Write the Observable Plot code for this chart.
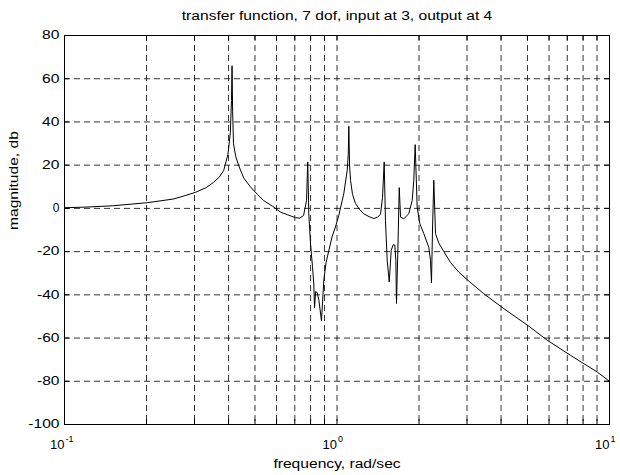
<!DOCTYPE html>
<html>
<head>
<meta charset="utf-8">
<script src="https://cdn.jsdelivr.net/npm/d3@7"></script>
<script src="https://cdn.jsdelivr.net/npm/@observablehq/plot@0.6"></script>
<style>
  html, body { margin: 0; padding: 0; background: #fff; }
  #chart svg { display: block; }
</style>
</head>
<body>
<div id="chart"></div>
<script>
// ---- data ----
const freq = [0.1, 0.12, 0.15, 0.2, 0.25, 0.267, 0.302, 0.33, 0.352, 0.37, 0.384, 0.398, 0.406, 0.41, 0.412, 0.414, 0.417, 0.425, 0.435, 0.455, 0.481, 0.51, 0.537, 0.58, 0.62, 0.66, 0.704, 0.73, 0.754, 0.773, 0.781, 0.788, 0.799, 0.813, 0.822, 0.827, 0.835, 0.846, 0.858, 0.877, 0.895, 0.912, 0.933, 0.96, 0.987, 1.015, 1.059, 1.09, 1.1, 1.105, 1.112, 1.121, 1.14, 1.169, 1.21, 1.254, 1.31, 1.364, 1.41, 1.444, 1.469, 1.49, 1.506, 1.528, 1.555, 1.581, 1.608, 1.63, 1.644, 1.653, 1.672, 1.692, 1.711, 1.758, 1.834, 1.888, 1.913, 1.936, 1.969, 2.013, 2.083, 2.172, 2.203, 2.222, 2.241, 2.266, 2.299, 2.363, 2.466, 2.609, 2.8, 3.005, 3.458, 4.094, 5.057, 5.907, 7.193, 9.014, 10];
const magnitudeDb = [0.3, 0.6, 1.2, 2.6, 4.3, 5.3, 7.4, 9.5, 12, 14.5, 17.6, 25, 35, 50, 66, 45, 30, 24, 20, 14, 10, 6.5, 3.7, 1, -1.7, -3, -4.3, -4.5, -3.3, 3.7, 21.5, -2.5, -16, -27, -35, -46, -38.5, -39, -42.5, -52, -33, -25, -19.6, -13, -8.6, -3.3, 6.8, 17.6, 25, 38, 20, 13, 6.5, 2.3, -0.5, -2.5, -3.8, -4.7, -4, -2.8, 5, 21.5, -5.5, -24, -34, -19.4, -16.8, -17, -24, -44, -20, 9.6, -4, -4.8, -2.5, 3.7, 13, 29.5, 0.6, -7, -11.7, -18, -24, -34.5, -10, 13, -11.7, -16, -20, -25, -29.5, -33, -39.5, -46.4, -54.5, -61, -68, -75.7, -80];

const yTicks = [-100, -80, -60, -40, -20, 0, 20, 40, 60, 80];
const xMajorTicks = [0.1, 1, 10];
const xExponents = ["-1", "0", "1"];
const xMinorTicks = [0.2, 0.3, 0.4, 0.5, 0.6, 0.7, 0.8, 0.9, 2, 3, 4, 5, 6, 7, 8, 9];
const xAllTicks = [...xMajorTicks, ...xMinorTicks];

const titleText = "transfer function, 7 dof, input at 3, output at 4";
const xLabel = "frequency, rad/sec";
const yLabel = "magnitude, db";

const data = freq.map((f, i) => ({f, db: magnitudeDb[i]}));

// ---- layout ----
const W = 620, H = 475;
const mL = 64, mR = 11, mT = 35, mB = 51;
const frameW = W - mL - mR, frameH = H - mT - mB;
const tickLen = 5;
const font = "'Liberation Sans', Arial, sans-serif";
const gridStyle = {stroke: "#000", strokeOpacity: 0.8, strokeDasharray: "6,4", strokeWidth: 1};

const chart = Plot.plot({
  width: W,
  height: H,
  marginLeft: mL, marginRight: mR, marginTop: mT, marginBottom: mB,
  style: {fontFamily: font, fontSize: "12px", background: "#fff", color: "#000"},
  x: {type: "log", domain: [0.1, 10]},
  y: {domain: [-100, 80]},
  marks: [
    // dashed grid
    Plot.gridX(xAllTicks.filter(v => v > 0.1 && v < 10), gridStyle),
    Plot.gridY(yTicks.filter(v => v > -100 && v < 80), gridStyle),
    // inward ticks (bottom, top, left, right)
    Plot.ruleX(xAllTicks, {stroke: "#000", insetTop: frameH - tickLen}),
    Plot.ruleX(xAllTicks, {stroke: "#000", insetBottom: frameH - tickLen}),
    Plot.ruleY(yTicks, {stroke: "#000", insetRight: frameW - tickLen}),
    Plot.ruleY(yTicks, {stroke: "#000", insetLeft: frameW - tickLen}),
    // y tick labels
    Plot.axisY(yTicks, {tickSize: 0, tickPadding: 5, fontSize: 12, label: null, tickFormat: d => String(d)}),
    // x tick labels: "10" with superscript exponent
    Plot.axisX(xMajorTicks, {tickSize: 0, ticks: xMajorTicks, tickFormat: () => "", label: null}),
    Plot.text(xMajorTicks, {x: d => d, frameAnchor: "bottom", text: () => "10", textAnchor: "end", dy: 24, fontSize: 13, fill: "#000"}),
    Plot.text(xMajorTicks, {x: d => d, frameAnchor: "bottom", text: (d, i) => xExponents[i], textAnchor: "start", dx: 1, dy: 17, fontSize: 9, fill: "#000"}),
    // frame
    Plot.frame({stroke: "#000", strokeWidth: 1}),
    // the curve
    Plot.line(data, {x: "f", y: "db", stroke: "#000", strokeWidth: 1}),
    // title and axis labels
    Plot.text([titleText], {frameAnchor: "top", dy: -24, fontSize: 12, fill: "#000"}),
    Plot.text([xLabel], {frameAnchor: "bottom", dy: 43, fontSize: 12, fill: "#000"}),
    Plot.text([yLabel], {frameAnchor: "left", dx: -50, rotate: -90, fontSize: 12, fill: "#000"})
  ]
});
document.getElementById("chart").appendChild(chart);

// the reference's lettering is wider than Liberation Sans: stretch it horizontally
chart.querySelectorAll("text").forEach(t => {
  const s = t.textContent;
  if (s.length < 2 || s === "10" || xExponents.includes(s)) return;
  const len = t.getComputedTextLength();
  t.setAttribute("textLength", (len * 1.3).toFixed(1));
  t.setAttribute("lengthAdjust", "spacingAndGlyphs");
});
</script>
</body>
</html>
